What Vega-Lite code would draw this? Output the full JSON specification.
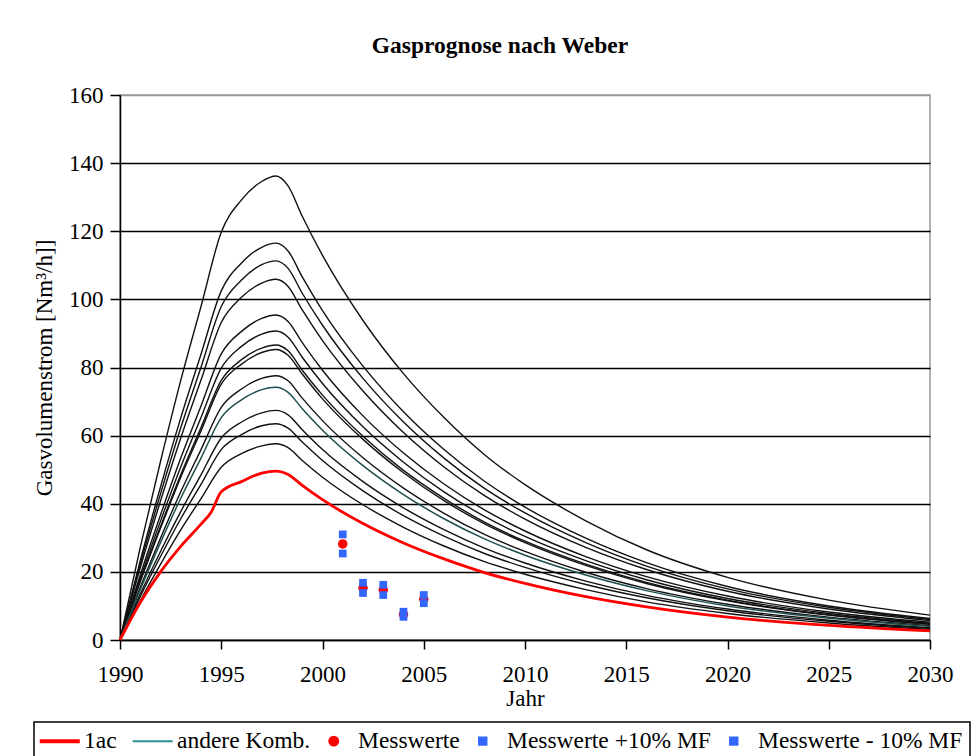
{
  "$schema": "https://vega.github.io/schema/vega-lite/v6.json",
  "width": 810,
  "height": 545,
  "autosize": {"type": "none"},
  "padding": {"left": 120, "top": 95, "right": 46, "bottom": 116},
  "background": "white",
  "config": {
    "font": "Liberation Serif",
    "view": {"stroke": "#999999", "strokeWidth": 1.5},
    "axis": {"labelColor": "black", "titleColor": "black", "labelFontSize": 23, "titleFontSize": 23, "titleFontWeight": "normal", "domainColor": "black", "tickColor": "black", "domainWidth": 1.5, "tickWidth": 1.5}
  },
  "title": {"text": "Gasprognose nach Weber", "fontSize": 23.5, "fontWeight": "bold", "font": "Liberation Serif", "color": "black", "anchor": "middle", "frame": "group", "dx": -25, "offset": 27},
  "datasets": {
    "curves": [
      {"t": 1990, "b136": 0, "b116": 0, "b111": 0, "b106": 0, "b95": 0, "b91": 0, "b87": 0, "b85": 0, "b78": 0, "tl": 0, "b67": 0, "b64": 0, "b58": 0},
      {"t": 1991, "b136": 27.2, "b116": 23.3, "b111": 22.3, "b106": 21.2, "b95": 19.1, "b91": 18.1, "b87": 17.3, "b85": 17.1, "b78": 15.5, "tl": 14.8, "b67": 13.5, "b64": 12.7, "b58": 11.5},
      {"t": 1992, "b136": 52.4, "b116": 44.9, "b111": 42.9, "b106": 40.8, "b95": 36.7, "b91": 34.9, "b87": 33.3, "b85": 32.8, "b78": 29.9, "tl": 28.6, "b67": 26.0, "b64": 24.5, "b58": 22.2},
      {"t": 1993, "b136": 76.2, "b116": 65.2, "b111": 62.3, "b106": 59.3, "b95": 53.4, "b91": 50.8, "b87": 48.5, "b85": 47.8, "b78": 43.5, "tl": 41.6, "b67": 37.7, "b64": 35.6, "b58": 32.3},
      {"t": 1994, "b136": 97.9, "b116": 83.9, "b111": 80.1, "b106": 76.3, "b95": 68.7, "b91": 65.3, "b87": 62.4, "b85": 61.4, "b78": 55.9, "tl": 53.4, "b67": 48.5, "b64": 45.7, "b58": 41.5},
      {"t": 1995, "b136": 119.7, "b116": 102.5, "b111": 97.9, "b106": 93.2, "b95": 84.0, "b91": 79.8, "b87": 76.2, "b85": 75.1, "b78": 68.3, "tl": 65.3, "b67": 59.3, "b64": 55.9, "b58": 50.7},
      {"t": 1996, "b136": 129.2, "b116": 110.7, "b111": 105.7, "b106": 100.6, "b95": 90.6, "b91": 86.2, "b87": 82.3, "b85": 81.0, "b78": 73.7, "tl": 70.5, "b67": 64.0, "b64": 60.3, "b58": 54.7},
      {"t": 1997, "b136": 134.6, "b116": 115.3, "b111": 110.2, "b106": 104.8, "b95": 94.4, "b91": 89.8, "b87": 85.7, "b85": 84.4, "b78": 76.8, "tl": 73.5, "b67": 66.7, "b64": 62.9, "b58": 57.0},
      {"t": 1997.7, "b136": 136.2, "b116": 116.5, "b111": 111.3, "b106": 105.9, "b95": 95.4, "b91": 90.7, "b87": 86.6, "b85": 85.3, "b78": 77.6, "tl": 74.2, "b67": 67.4, "b64": 63.5, "b58": 57.6},
      {"t": 1998.3, "b136": 133.3, "b116": 114.2, "b111": 109.1, "b106": 103.8, "b95": 93.5, "b91": 88.9, "b87": 84.9, "b85": 83.6, "b78": 76.1, "tl": 72.7, "b67": 66.1, "b64": 62.2, "b58": 56.5},
      {"t": 1999, "b136": 124.4, "b116": 106.6, "b111": 101.8, "b106": 96.9, "b95": 87.3, "b91": 83.0, "b87": 79.2, "b85": 78.1, "b78": 71.0, "tl": 67.9, "b67": 61.7, "b64": 58.1, "b58": 52.7},
      {"t": 2000, "b136": 112.9, "b116": 96.7, "b111": 92.4, "b106": 87.9, "b95": 79.2, "b91": 75.3, "b87": 71.9, "b85": 70.8, "b78": 64.4, "tl": 61.6, "b67": 55.9, "b64": 52.7, "b58": 47.8},
      {"t": 2002, "b136": 93.8, "b116": 80.4, "b111": 76.8, "b106": 73.1, "b95": 65.8, "b91": 62.6, "b87": 59.8, "b85": 58.9, "b78": 53.5, "tl": 51.2, "b67": 46.5, "b64": 43.8, "b58": 39.7},
      {"t": 2004, "b136": 78.2, "b116": 67.0, "b111": 64.0, "b106": 60.9, "b95": 54.9, "b91": 52.2, "b87": 49.8, "b85": 49.1, "b78": 44.6, "tl": 42.7, "b67": 38.8, "b64": 36.5, "b58": 33.1},
      {"t": 2006, "b136": 65.3, "b116": 55.9, "b111": 53.4, "b106": 50.8, "b95": 45.8, "b91": 43.5, "b87": 41.6, "b85": 40.9, "b78": 37.2, "tl": 35.6, "b67": 32.4, "b64": 30.5, "b58": 27.6},
      {"t": 2008, "b136": 54.4, "b116": 46.6, "b111": 44.5, "b106": 42.4, "b95": 38.2, "b91": 36.3, "b87": 34.6, "b85": 34.1, "b78": 31.0, "tl": 29.7, "b67": 27.0, "b64": 25.4, "b58": 23.0},
      {"t": 2010, "b136": 45.6, "b116": 39.0, "b111": 37.3, "b106": 35.5, "b95": 32.0, "b91": 30.4, "b87": 29.0, "b85": 28.6, "b78": 26.0, "tl": 24.9, "b67": 22.6, "b64": 21.3, "b58": 19.3},
      {"t": 2013, "b136": 35.0, "b116": 29.9, "b111": 28.6, "b106": 27.2, "b95": 24.5, "b91": 23.3, "b87": 22.3, "b85": 21.9, "b78": 19.9, "tl": 19.1, "b67": 17.3, "b64": 16.3, "b58": 14.8},
      {"t": 2016, "b136": 26.5, "b116": 22.7, "b111": 21.7, "b106": 20.7, "b95": 18.6, "b91": 17.7, "b87": 16.9, "b85": 16.6, "b78": 15.1, "tl": 14.5, "b67": 13.1, "b64": 12.4, "b58": 11.2},
      {"t": 2020, "b136": 18.4, "b116": 15.7, "b111": 15.0, "b106": 14.3, "b95": 12.9, "b91": 12.2, "b87": 11.7, "b85": 11.5, "b78": 10.5, "tl": 10.0, "b67": 9.1, "b64": 8.6, "b58": 7.8},
      {"t": 2025, "b136": 11.7, "b116": 10.0, "b111": 9.6, "b106": 9.1, "b95": 8.2, "b91": 7.8, "b87": 7.4, "b85": 7.3, "b78": 6.7, "tl": 6.4, "b67": 5.8, "b64": 5.5, "b58": 5.0},
      {"t": 2030, "b136": 7.3, "b116": 6.3, "b111": 6.0, "b106": 5.7, "b95": 5.2, "b91": 4.9, "b87": 4.7, "b85": 4.6, "b78": 4.2, "tl": 4.0, "b67": 3.6, "b64": 3.4, "b58": 3.1}
    ],
    "red": [
      {"t": 1990, "v": 0, "s": "1ac"}, {"t": 1991, "v": 11, "s": "1ac"}, {"t": 1992, "v": 20, "s": "1ac"},
      {"t": 1993, "v": 27.5, "s": "1ac"}, {"t": 1994, "v": 34, "s": "1ac"}, {"t": 1994.5, "v": 37.5, "s": "1ac"},
      {"t": 1995, "v": 43.5, "s": "1ac"}, {"t": 1996, "v": 46.5, "s": "1ac"}, {"t": 1997, "v": 49, "s": "1ac"},
      {"t": 1997.7, "v": 49.6, "s": "1ac"}, {"t": 1998.3, "v": 48.6, "s": "1ac"}, {"t": 1999, "v": 45.4, "s": "1ac"},
      {"t": 2000, "v": 41.2, "s": "1ac"}, {"t": 2002, "v": 34.2, "s": "1ac"}, {"t": 2004, "v": 28.5, "s": "1ac"},
      {"t": 2006, "v": 23.8, "s": "1ac"}, {"t": 2008, "v": 19.8, "s": "1ac"}, {"t": 2010, "v": 16.6, "s": "1ac"},
      {"t": 2013, "v": 12.7, "s": "1ac"}, {"t": 2016, "v": 9.7, "s": "1ac"}, {"t": 2020, "v": 6.7, "s": "1ac"},
      {"t": 2025, "v": 4.3, "s": "1ac"}, {"t": 2030, "v": 2.7, "s": "1ac"}
    ],
    "mess": [
      {"t": 2001, "v": 28.2, "s": "Messwerte"}, {"t": 2002, "v": 15.3, "s": "Messwerte"},
      {"t": 2003, "v": 14.7, "s": "Messwerte"}, {"t": 2004, "v": 7.5, "s": "Messwerte"},
      {"t": 2005, "v": 12.0, "s": "Messwerte"}
    ],
    "band": [
      {"t": 2001, "v": 31.0, "s": "Messwerte +10% MF"}, {"t": 2002, "v": 16.8, "s": "Messwerte +10% MF"},
      {"t": 2003, "v": 16.2, "s": "Messwerte +10% MF"}, {"t": 2004, "v": 8.3, "s": "Messwerte +10% MF"},
      {"t": 2005, "v": 13.2, "s": "Messwerte +10% MF"},
      {"t": 2001, "v": 25.4, "s": "Messwerte - 10% MF"}, {"t": 2002, "v": 13.8, "s": "Messwerte - 10% MF"},
      {"t": 2003, "v": 13.2, "s": "Messwerte - 10% MF"}, {"t": 2004, "v": 6.8, "s": "Messwerte - 10% MF"},
      {"t": 2005, "v": 10.8, "s": "Messwerte - 10% MF"}
    ]
  },
  "encoding": {
    "x": {"field": "t", "type": "quantitative", "scale": {"domain": [1990, 2030], "nice": false, "zero": false},
      "axis": {"title": "Jahr", "values": [1990, 1995, 2000, 2005, 2010, 2015, 2020, 2025, 2030], "format": "d", "grid": false, "labelFlush": false, "tickSize": 9, "labelPadding": 14, "titlePadding": 1}},
    "y": {"field": "v", "type": "quantitative", "scale": {"domain": [0, 160], "nice": false},
      "axis": {"title": "Gasvolumenstrom [Nm³/h]]", "values": [0, 20, 40, 60, 80, 100, 120, 140, 160], "labelFlush": false, "tickSize": 10, "labelPadding": 7, "titlePadding": 12, "grid": true, "gridWidth": 1.6,
        "gridColor": {"condition": {"test": "datum.value === 160", "value": "#999999"}, "value": "black"}}}
  },
  "layer": [
    {
      "data": {"name": "curves"},
      "transform": [{"fold": ["b136", "b116", "b111", "b106", "b95", "b91", "b87", "b85", "b78", "b67", "b64", "b58"], "as": ["k", "v"]}],
      "mark": {"type": "line", "color": "#111111", "strokeWidth": 1.4, "interpolate": "monotone"},
      "encoding": {"detail": {"field": "k"}}
    },
    {
      "data": {"name": "curves"},
      "transform": [{"fold": ["tl"], "as": ["k", "v"]}],
      "mark": {"type": "line", "color": "#1f4f4f", "strokeWidth": 1.5, "interpolate": "monotone"},
      "encoding": {"detail": {"field": "k"}}
    },
    {
      "data": {"name": "red"},
      "mark": {"type": "line", "strokeWidth": 2.8, "interpolate": "monotone"},
      "encoding": {
        "color": {"field": "s", "type": "nominal",
          "scale": {"domain": ["1ac", "andere Komb.", "Messwerte", "Messwerte +10% MF", "Messwerte - 10% MF"], "range": ["#ff0000", "#2a9090", "#ff0000", "#3366ff", "#3366ff"]},
          "legend": {
            "title": " ", "titleOrient": "left", "titleFontSize": 1, "titlePadding": 7,
            "orient": "none", "legendX": -86, "legendY": 627, "direction": "horizontal", "columns": 5,
            "columnPadding": 11, "padding": 7, "strokeColor": "black",
            "labelFont": "Liberation Serif", "labelFontSize": 23.5, "labelColor": "black", "labelLimit": 400, "labelOffset": 12.5,
            "symbolSize": 1600, "symbolType": "stroke",
            "encode": {
              "legend": {"update": {"strokeWidth": {"value": 1.5}}},
              "symbols": {"update": {
                "shape": {"signal": "(datum.value == '1ac' || datum.value == 'andere Komb.') ? 'stroke' : (datum.value == 'Messwerte' ? 'circle' : 'square')"},
                "size": {"signal": "(datum.value == '1ac' || datum.value == 'andere Komb.') ? 1600 : (datum.value == 'Messwerte' ? 80 : 55)"},
                "fill": {"signal": "(datum.value == '1ac' || datum.value == 'andere Komb.') ? 'transparent' : (datum.value == 'Messwerte' ? '#ff0000' : '#3366ff')"},
                "stroke": {"signal": "datum.value == '1ac' ? '#ff0000' : (datum.value == 'andere Komb.' ? '#2a9090' : 'transparent')"},
                "strokeWidth": {"signal": "datum.value == '1ac' ? 4 : 2"},
                "opacity": {"value": 1}
              }}
            }
          }}
      }
    },
    {
      "data": {"name": "mess"},
      "mark": {"type": "point", "shape": "circle", "filled": true, "size": 90, "opacity": 1},
      "encoding": {"color": {"field": "s", "type": "nominal"}}
    },
    {
      "data": {"name": "band"},
      "mark": {"type": "point", "shape": "square", "filled": true, "size": 60, "opacity": 1},
      "encoding": {"color": {"field": "s", "type": "nominal"}}
    }
  ]
}
